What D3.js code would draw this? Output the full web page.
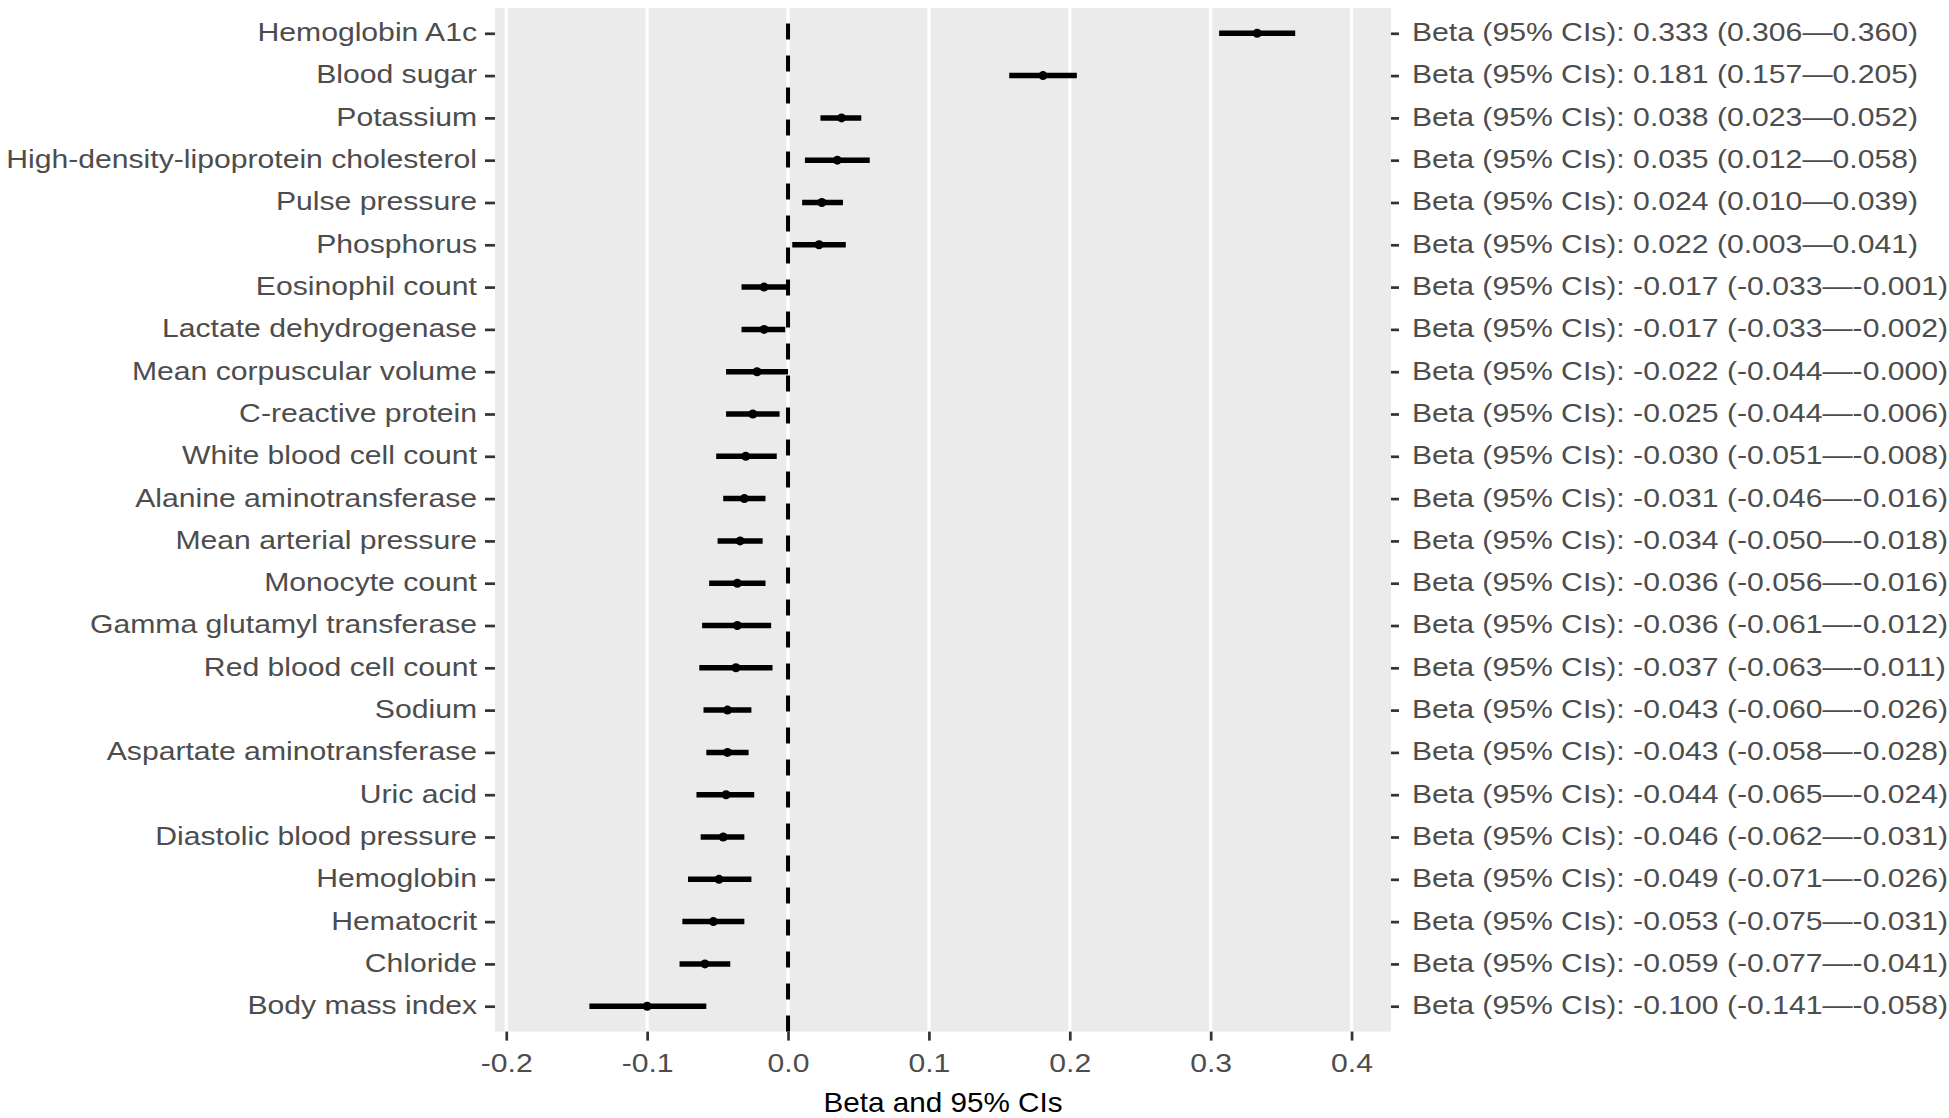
<!DOCTYPE html>
<html>
<head>
<meta charset="utf-8">
<script src="https://cdn.jsdelivr.net/npm/d3@7"></script>
<style>
  body { margin: 0; background: #fff; }
  svg { display: block; }
</style>
</head>
<body>
<div id="chart"></div>
<script>
const traits = [
  'Hemoglobin A1c', 'Blood sugar', 'Potassium', 'High-density-lipoprotein cholesterol',
  'Pulse pressure', 'Phosphorus', 'Eosinophil count', 'Lactate dehydrogenase',
  'Mean corpuscular volume', 'C-reactive protein', 'White blood cell count',
  'Alanine aminotransferase', 'Mean arterial pressure', 'Monocyte count',
  'Gamma glutamyl transferase', 'Red blood cell count', 'Sodium',
  'Aspartate aminotransferase', 'Uric acid', 'Diastolic blood pressure',
  'Hemoglobin', 'Hematocrit', 'Chloride', 'Body mass index'
];
const beta = [
  0.333, 0.181, 0.038, 0.035, 0.024, 0.022, -0.017, -0.017, -0.022, -0.025, -0.030, -0.031,
  -0.034, -0.036, -0.036, -0.037, -0.043, -0.043, -0.044, -0.046, -0.049, -0.053, -0.059, -0.100
];
const lower = [
  0.306, 0.157, 0.023, 0.012, 0.010, 0.003, -0.033, -0.033, -0.044, -0.044, -0.051, -0.046,
  -0.050, -0.056, -0.061, -0.063, -0.060, -0.058, -0.065, -0.062, -0.071, -0.075, -0.077, -0.141
];
const upper = [
  0.360, 0.205, 0.052, 0.058, 0.039, 0.041, -0.001, -0.002, -0.000, -0.006, -0.008, -0.016,
  -0.018, -0.016, -0.012, -0.011, -0.026, -0.028, -0.024, -0.031, -0.026, -0.031, -0.041, -0.058
];
const xTicks = [-0.2, -0.1, 0.0, 0.1, 0.2, 0.3, 0.4];

const W = 1949, H = 1118;
const panel = { left: 495, right: 1391, top: 7.9, bottom: 1031.6 };
const textColor = '#4d4d4d';
const fontSize = 26;
const stretch = 1.16; // glyphs in the source are wider than plain Arial

const rows = traits.map((t, i) => ({ trait: t, beta: beta[i], lo: lower[i], hi: upper[i] }));

// plain hyphen for negatives, and keep the sign on values like -0.000
const fmtN = n => v => (v < 0 || Object.is(v, -0) ? '-' : '') + Math.abs(v).toFixed(n);
const fmt = fmtN(3);
const labelFor = d => `Beta (95% CIs): ${fmt(d.beta)} (${fmt(d.lo)}\u2014${fmt(d.hi)})`;

const x = d3.scaleLinear().domain([-0.208, 0.428]).range([panel.left, panel.right]);
const y = d3.scalePoint().domain(traits).range([panel.top, panel.bottom]).padding(0.6);

const svg = d3.select('#chart').append('svg')
  .attr('width', W).attr('height', H)
  .style('font-family', '"Liberation Sans", Arial, sans-serif');

svg.append('rect')
  .attr('x', panel.left).attr('y', panel.top)
  .attr('width', panel.right - panel.left).attr('height', panel.bottom - panel.top)
  .attr('fill', '#ebebeb');

svg.append('g').selectAll('line').data(xTicks).join('line')
  .attr('x1', d => x(d)).attr('x2', d => x(d))
  .attr('y1', panel.top).attr('y2', panel.bottom)
  .attr('stroke', '#fff').attr('stroke-width', 3.2);

// zero reference line, dashes start from the bottom like the source
svg.append('line')
  .attr('x1', x(0)).attr('x2', x(0))
  .attr('y1', panel.bottom).attr('y2', panel.top)
  .attr('stroke', '#000').attr('stroke-width', 4)
  .attr('stroke-dasharray', '16 16');

const marks = svg.append('g');
marks.selectAll('line').data(rows).join('line')
  .attr('x1', d => x(d.lo)).attr('x2', d => x(d.hi))
  .attr('y1', d => y(d.trait)).attr('y2', d => y(d.trait))
  .attr('stroke', '#000').attr('stroke-width', 5.5);
marks.selectAll('circle').data(rows).join('circle')
  .attr('cx', d => x(d.beta)).attr('cy', d => y(d.trait))
  .attr('r', 4.5).attr('fill', '#000');

const styleAxis = g => {
  g.select('.domain').remove();
  g.selectAll('.tick line').attr('stroke', '#333').attr('stroke-width', 2.7);
  g.selectAll('.tick text')
    .attr('fill', textColor)
    .style('font-size', fontSize + 'px')
    .attr('transform', `scale(${stretch},1)`);
};

const leftAxis = svg.append('g')
  .attr('transform', `translate(${panel.left},0)`)
  .call(d3.axisLeft(y).tickSize(10))
  .call(styleAxis);
leftAxis.selectAll('.tick text').attr('x', -18 / stretch).attr('dy', '0.285em');

const byTrait = new Map(rows.map(d => [d.trait, d]));
const rightAxis = svg.append('g')
  .attr('transform', `translate(${panel.right},0)`)
  .call(d3.axisRight(y).tickSize(8).tickFormat(t => labelFor(byTrait.get(t))))
  .call(styleAxis);
rightAxis.selectAll('.tick text').attr('x', 21 / stretch).attr('dy', '0.285em');

const bottomAxis = svg.append('g')
  .attr('transform', `translate(0,${panel.bottom})`)
  .call(d3.axisBottom(x).tickValues(xTicks).tickSize(9).tickFormat(fmtN(1)))
  .call(styleAxis);
bottomAxis.selectAll('.tick text').attr('y', 40).attr('dy', 0);

svg.append('text')
  .attr('transform', `translate(${(panel.left + panel.right) / 2},1111.5) scale(1.06,1)`)
  .attr('text-anchor', 'middle')
  .attr('fill', '#000')
  .style('font-size', '28px')
  .text('Beta and 95% CIs');
</script>
</body>
</html>
